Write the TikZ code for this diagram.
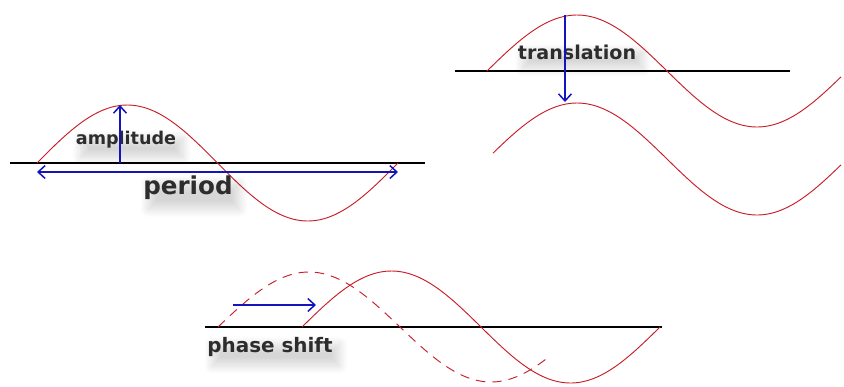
\documentclass[tikz,border=0pt]{standalone}
\usepackage{fontspec}
\setmainfont{DejaVu Sans}
\usetikzlibrary{arrows.meta,shadows.blur}

\definecolor{wavered}{RGB}{200, 30, 40}
\definecolor{markblue}{RGB}{20, 20, 190}
\definecolor{labelgray}{RGB}{45, 45, 45}

\tikzset{
    axisline/.style={line width=1.3pt, black},
    wave/.style={line width=0.8pt, wavered, smooth, samples=120},
    marker/.style={line width=1.3pt, markblue, >={Straight Barb[length=6pt, width=11pt]}},
    caption/.style={text=labelgray, inner sep=1pt, font=\bfseries,
        blur shadow={shadow xshift=5pt, shadow yshift=-7pt, shadow opacity=16,
            shadow blur radius=7pt, shadow blur steps=16}}
}

\begin{document}
\begin{tikzpicture}[x=0.03cm, y=-0.03cm]
    \useasboundingbox (0,0) rectangle (844,386);

    % amplitude and period
    \draw[axisline] (10,163) -- (425,163);
    \draw[wave] plot[domain=37:398] (\x, {163-58*sin((\x-37)/361*360)});
    \coordinate (A0) at (120,163);
    \coordinate (A1) at (120,105);
    \coordinate (P0) at (37,172);
    \coordinate (P1) at (398,172);
    \node[caption, font=\fontsize{15}{15}\selectfont\bfseries] (amp) at (126,140) {amplitude};
    \node[caption, font=\fontsize{21}{21}\selectfont\bfseries] (per) at (188,188) {period};
    \draw[marker, ->] (A0) -- (A1);
    \draw[marker, <->] (P0) -- (P1);

    % translation
    \draw[axisline] (455,71) -- (790,71);
    \draw[wave] plot[domain=487:841] (\x, {71-56*sin(\x-487)});
    \draw[wave] plot[domain=493:841] (\x, {159-56*sin(\x-487)});
    \coordinate (T0) at (565,15);
    \coordinate (T1) at (565,102);
    \node[caption, font=\fontsize{16.3}{16.3}\selectfont\bfseries] (tra) at (577,52) {translation};
    \draw[marker, ->] (T0) -- (T1);

    % phase shift
    \draw[axisline] (205,327) -- (662,327);
    \draw[wave, dashed, dash pattern=on 8pt off 6pt] plot[domain=218:550] (\x, {327-55*sin((\x-218)/364*360)});
    \draw[wave] plot[domain=302:660] (\x, {327-56*sin((\x-302)/358*360)});
    \coordinate (S0) at (233,305);
    \coordinate (S1) at (316,305);
    \node[caption, font=\fontsize{17}{17}\selectfont\bfseries] (pha) at (270,347) {phase shift};
    \draw[marker, ->] (S0) -- (S1);
\end{tikzpicture}
\end{document}
